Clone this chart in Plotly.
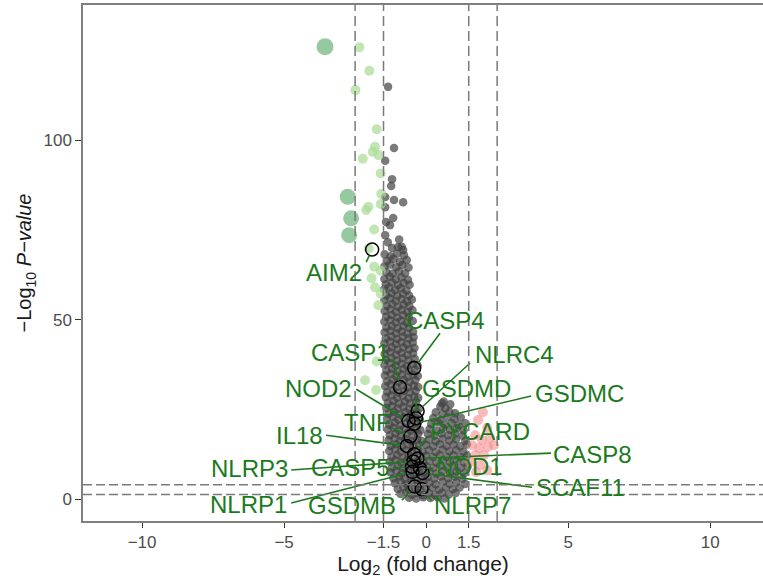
import plotly.graph_objects as go

# ---- data -----------------------------------------------------------------
# background genes (not significant / |log2FC| < 1.5): (log2FC, -log10 p)
grey_points = [
    (-1.34, 114.8), (-1.13, 97.8), (-1.44, 94.2), (-1.2, 89.1), (-1.23, 87.2),
    (-1.44, 84.1), (-1.13, 83.3), (-0.81, 82.7), (-1.44, 81.3), (-1.16, 78.3),
    (-1.41, 77.2), (-1.27, 76.3), (-1.44, 73.5), (-0.99, 70.2), (-1.2, 69.9),
    (-0.81, 69.4), (-1.35, 71.5), (-0.95, 72.3), (-0.86, 70.3),
    (-1.46, 68.2), (-1.25, 67.6), (-1.02, 68.4), (-0.78, 67.9),
    (-1.38, 66.3), (-1.15, 66.9), (-0.92, 66.1), (-0.68, 66.6),
    (-1.47, 64.8), (-1.27, 65.3), (-1.05, 64.6), (-0.84, 65.2), (-0.62, 64.5),
    (-1.4, 63.2), (-1.18, 62.8), (-0.96, 63.4), (-0.74, 62.9),
    (-1.47, 61.3), (-1.28, 61.9), (-1.07, 61.2), (-0.87, 61.7), (-0.64, 61.1),
    (-1.42, 59.8), (-1.2, 60.3), (-0.99, 59.6), (-0.79, 60.2), (-0.58, 59.7),
    (-1.48, 58.4), (-1.3, 58.9), (-1.09, 58.2), (-0.89, 58.7), (-0.69, 58.1),
    (-1.41, 56.8), (-1.21, 57.3), (-1.01, 56.6), (-0.81, 57.2), (-0.6, 56.7),
    (-1.47, 55.4), (-1.27, 55.9), (-1.07, 55.2), (-0.87, 55.7), (-0.67, 55.1), (-0.5, 55.6),
    (-1.39, 53.8), (-1.19, 54.3), (-0.99, 53.6), (-0.79, 54.2), (-0.59, 53.7),
    (-1.46, 52.4), (-1.26, 52.9), (-1.06, 52.2), (-0.86, 52.7), (-0.66, 52.1), (-0.48, 52.6),
    (-1.41, 50.8), (-1.21, 51.3), (-1.01, 50.6), (-0.81, 51.2), (-0.61, 50.7),
    (-1.47, 49.4), (-1.27, 49.9), (-1.07, 49.2), (-0.87, 49.7), (-0.67, 49.1), (-0.47, 49.6),
    (-1.4, 47.8), (-1.2, 48.3), (-1.0, 47.6), (-0.8, 48.2), (-0.6, 47.7),
    (-1.46, 46.4), (-1.26, 46.9), (-1.06, 46.2), (-0.86, 46.7), (-0.66, 46.1), (-0.46, 46.6),
    (-1.42, 44.8), (-1.22, 45.3), (-1.02, 44.6), (-0.82, 45.2), (-0.62, 44.7), (-0.44, 45.1),
    (-1.47, 43.4), (-1.27, 43.9), (-1.07, 43.2), (-0.87, 43.7), (-0.67, 43.1), (-0.47, 43.6),
    (-1.4, 41.8), (-1.2, 42.3), (-1.0, 41.6), (-0.8, 42.2), (-0.6, 41.7), (-0.41, 42.1),
    (-1.46, 40.4), (-1.26, 40.9), (-1.06, 40.2), (-0.86, 40.7), (-0.66, 40.1), (-0.46, 40.6),
    (-1.42, 38.8), (-1.22, 39.3), (-1.02, 38.6), (-0.82, 39.2), (-0.62, 38.7), (-0.4, 39.1),
    (-1.47, 37.4), (-1.27, 37.9), (-1.07, 37.2), (-0.87, 37.7), (-0.67, 37.1), (-0.47, 37.6), (-0.3, 37.2),
    (-1.4, 35.8), (-1.2, 36.3), (-1.0, 35.6), (-0.8, 36.2), (-0.6, 35.7), (-0.4, 36.1),
    (-1.45, 34.4), (-1.25, 34.9), (-1.05, 34.2), (-0.85, 34.7), (-0.65, 34.1), (-0.45, 34.6), (-0.29, 34.3),
    (-1.38, 32.8), (-1.18, 33.3), (-0.98, 32.6), (-0.78, 33.2), (-0.58, 32.7), (-0.38, 33.1),
    (-1.44, 31.4), (-1.24, 31.9), (-1.04, 31.2), (-0.84, 31.7), (-0.64, 31.1), (-0.44, 31.6), (-0.28, 31.2),
    (-1.37, 29.8), (-1.17, 30.3), (-0.97, 29.6), (-0.77, 30.2), (-0.57, 29.7), (-0.37, 30.1),
    (-1.42, 28.4), (-1.22, 28.9), (-1.02, 28.2), (-0.82, 28.7), (-0.62, 28.1), (-0.42, 28.6), (-0.28, 28.2),
    (-1.35, 26.8), (-1.15, 27.3), (-0.95, 26.6), (-0.75, 27.2), (-0.55, 26.7), (-0.35, 27.1),
    (0.56, 26.7), (0.62, 27.2), (0.85, 26.4),
    (-1.4, 25.4), (-1.2, 25.9), (-1.0, 25.2), (-0.8, 25.7), (-0.6, 25.1), (-0.4, 25.6), (-0.24, 25.2),
    (0.5, 25.8), (0.68, 25.2),
    (-1.33, 23.8), (-1.13, 24.3), (-0.93, 23.6), (-0.73, 24.2), (-0.53, 23.7), (-0.33, 24.1),
    (0.34, 24.2), (0.58, 23.7), (0.82, 24.3), (1.02, 23.9),
    (-1.38, 22.4), (-1.18, 22.9), (-0.98, 22.2), (-0.78, 22.7), (-0.58, 22.1), (-0.38, 22.6), (-0.22, 22.2),
    (0.25, 22.6), (0.5, 22.1), (0.75, 22.8), (1.0, 22.3), (1.22, 22.7),
    (-1.3, 20.8), (-1.1, 21.3), (-0.9, 20.6), (-0.7, 21.2), (-0.5, 20.7), (-0.3, 21.1),
    (0.18, 20.9), (0.42, 21.4), (0.66, 20.7), (0.9, 21.2), (1.14, 20.6), (1.38, 21.1),
    (-1.35, 19.4), (-1.15, 19.9), (-0.95, 19.2), (-0.75, 19.7), (-0.55, 19.1), (-0.35, 19.6), (-0.2, 19.2),
    (0.12, 19.5), (0.36, 19.1), (0.6, 19.8), (0.84, 19.3), (1.08, 19.7), (1.32, 19.2),
    (-1.28, 17.8), (-1.08, 18.3), (-0.88, 17.6), (-0.68, 18.2), (-0.48, 17.7), (-0.28, 18.1),
    (0.06, 18.1), (0.3, 17.7), (0.54, 18.3), (0.78, 17.8), (1.02, 18.2), (1.28, 17.7),
    (-1.32, 16.4), (-1.12, 16.9), (-0.92, 16.2), (-0.72, 16.7), (-0.52, 16.1), (-0.32, 16.6), (-0.15, 16.2),
    (0.1, 16.6), (0.34, 16.1), (0.58, 16.8), (0.82, 16.3), (1.06, 16.7), (1.38, 16.2),
    (-1.25, 14.8), (-1.05, 15.3), (-0.85, 14.6), (-0.65, 15.2), (-0.45, 14.7), (-0.25, 15.1),
    (0.0, 15.1), (0.24, 14.7), (0.48, 15.3), (0.72, 14.8), (0.96, 15.2), (1.2, 14.7), (1.44, 15.2),
    (-1.3, 13.4), (-1.1, 13.9), (-0.9, 13.2), (-0.7, 13.7), (-0.5, 13.1), (-0.3, 13.6), (-0.12, 13.2),
    (0.1, 13.6), (0.34, 13.1), (0.58, 13.8), (0.82, 13.3), (1.06, 13.7), (1.32, 13.2),
    (-1.22, 11.8), (-1.02, 12.3), (-0.82, 11.6), (-0.62, 12.2), (-0.42, 11.7), (-0.22, 12.1),
    (0.0, 12.1), (0.24, 11.7), (0.48, 12.3), (0.72, 11.8), (0.96, 12.2), (1.2, 11.7), (1.44, 12.1),
    (-1.28, 10.4), (-1.08, 10.9), (-0.88, 10.2), (-0.68, 10.7), (-0.48, 10.1), (-0.28, 10.6), (-0.1, 10.2),
    (0.12, 10.6), (0.36, 10.1), (0.6, 10.8), (0.84, 10.3), (1.08, 10.7), (1.34, 10.2),
    (-1.2, 8.8), (-1.0, 9.3), (-0.8, 8.6), (-0.6, 9.2), (-0.4, 8.7), (-0.2, 9.1),
    (0.02, 9.1), (0.26, 8.7), (0.5, 9.3), (0.74, 8.8), (0.98, 9.2), (1.22, 8.7), (1.46, 9.1),
    (-1.25, 7.4), (-1.05, 7.9), (-0.85, 7.2), (-0.65, 7.7), (-0.45, 7.1), (-0.25, 7.6), (-0.08, 7.2),
    (0.12, 7.6), (0.36, 7.1), (0.6, 7.8), (0.84, 7.3), (1.08, 7.7), (1.34, 7.2),
    (-1.15, 5.8), (-0.95, 6.3), (-0.75, 5.6), (-0.55, 6.2), (-0.35, 5.7), (-0.15, 6.1),
    (0.05, 6.1), (0.29, 5.7), (0.53, 6.3), (0.77, 5.8), (1.01, 6.2), (1.27, 5.7),
    (-1.1, 4.4), (-0.9, 4.9), (-0.7, 4.2), (-0.5, 4.7), (-0.3, 4.1), (-0.1, 4.6),
    (0.1, 4.6), (0.34, 4.1), (0.58, 4.8), (0.82, 4.3), (1.06, 4.7), (1.38, 4.2),
    (-1.0, 2.8), (-0.8, 3.3), (-0.6, 2.6), (-0.4, 3.2), (-0.2, 2.7), (0.0, 3.1),
    (0.22, 3.2), (0.46, 2.7), (0.7, 3.3), (0.94, 2.8), (1.18, 3.2),
    (-0.9, 1.4), (-0.7, 1.9), (-0.5, 1.2), (-0.3, 1.7), (-0.1, 1.1), (0.1, 1.6),
    (0.32, 1.2), (0.56, 1.8), (0.8, 1.3), (1.04, 1.7),
    (-0.6, 0.4), (-0.35, 0.2), (-0.1, 0.5), (0.15, 0.3), (0.4, 0.5), (0.65, 0.2),
]

# down-regulated, 1.5 < |log2FC| < 2.5
down_points = [
    (-2.35, 125.8), (-2.0, 119.3), (-2.49, 113.9), (-1.74, 103.0), (-1.8, 98.1),
    (-1.88, 96.7), (-1.68, 95.8), (-2.23, 94.8), (-1.6, 90.7), (-1.58, 85.0),
    (-2.03, 81.4), (-2.11, 80.5), (-1.6, 82.2), (-1.83, 75.1), (-2.02, 69.8),
    (-1.83, 64.7), (-1.6, 63.6), (-1.92, 61.5), (-1.8, 59.0), (-1.6, 57.3),
    (-1.68, 54.0), (-1.74, 38.3), (-2.15, 33.1), (-1.76, 30.4),
]

# strongly down-regulated, |log2FC| > 2.5
strong_down_points = [(-3.56, 126.0), (-2.76, 84.2), (-2.64, 78.2), (-2.71, 73.5)]

# up-regulated, 1.5 < log2FC < 2.5
up_points = [
    (2.0, 24.2), (1.83, 22.0), (2.15, 19.8), (1.73, 17.8), (1.97, 16.4),
    (2.25, 17.0), (1.62, 15.0), (1.87, 14.2), (2.18, 14.5), (2.39, 15.0),
    (1.73, 12.3), (2.04, 12.3), (1.55, 10.3), (1.9, 9.5), (1.76, 7.5), (2.15, 8.0),
]

# highlighted inflammasome / pyroptosis genes
gene_names = ["AIM2", "CASP4", "CASP1", "NLRC4", "GSDMD", "GSDMC", "NOD2", "TNF",
              "IL18", "PYCARD", "CASP8", "NOD1", "CASP5", "NLRP3", "SCAF11",
              "NLRP1", "GSDMB", "NLRP7"]
gene_fc = [-1.9, -0.42, -0.92, -0.3, -0.36, -0.42, -0.62, -0.55,
           -0.68, -0.42, -0.3, -0.22, -0.5, -0.45, -0.12,
           -0.48, -0.4, -0.16]
gene_logp = [69.5, 36.5, 31.2, 24.5, 22.5, 21.0, 21.8, 17.5,
             14.8, 12.5, 11.3, 8.6, 9.0, 10.5, 7.3,
             7.6, 3.5, 2.8]

# repelled label placement (text centre) and leader-line start next to the text
label_pos = [(-3.24, 63.2), (0.67, 49.6), (-2.68, 40.7), (3.1, 40.4), (1.41, 30.9),
             (5.39, 29.5), (-3.8, 30.9), (-2.08, 21.2), (-4.47, 17.8), (1.9, 18.7),
             (5.85, 12.3), (1.51, 9.2), (-2.68, 8.9), (-6.23, 8.6), (5.42, 3.1),
             (-6.27, -1.4), (-2.6, -1.7), (1.62, -1.7)]
leader_start = [(-2.11, 66.0), (0.49, 46.2), (-1.16, 39.3), (1.55, 37.9), (-0.35, 28.4),
                (3.7, 28.7), (-2.46, 30.6), (-1.2, 19.8), (-3.52, 17.8), (0.04, 17.3),
                (4.4, 12.8), (0.25, 8.6), (-1.16, 8.6), (-4.75, 8.1), (3.73, 3.3),
                (-4.75, -1.1), (-0.85, -0.3), (0.18, -0.3)]

fc_cutoffs = [-2.5, -1.5, 1.5, 2.5]
p_cutoffs = [1.3, 4.0]

x_ticks = [-10, -5, -1.5, 0, 1.5, 5, 10]
y_ticks = [0, 50, 100]

# ---- layout geometry ----------------------------------------------------------
W, H = 763, 578
M_L, M_R, M_T, M_B = 83, 0, 5, 57
X_RANGE = [-12.08, 11.86]
Y_RANGE = [-6.1, 137.6]
px_x = (W - M_L - M_R) / (X_RANGE[1] - X_RANGE[0])
px_y = (H - M_T - M_B) / (Y_RANGE[1] - Y_RANGE[0])

GREEN_TXT = "#1c7a1c"
fig = go.Figure()


def split(points):
    return [p[0] for p in points], [p[1] for p in points]


gx, gy = split(grey_points)
fig.add_trace(go.Scatter(x=gx, y=gy, mode="markers",
                         marker=dict(size=8.5, color="rgba(66,66,66,0.7)", line=dict(width=0))))

dx, dy = split(down_points)
fig.add_trace(go.Scatter(x=dx, y=dy, mode="markers",
                         marker=dict(size=10, color="rgba(170,220,150,0.72)", line=dict(width=0))))

sx, sy = split(strong_down_points)
fig.add_trace(go.Scatter(x=sx, y=sy, mode="markers",
                         marker=dict(size=[17, 16, 16, 16], color="rgba(80,165,95,0.85)",
                                     line=dict(width=0))))

ux, uy = split(up_points)
fig.add_trace(go.Scatter(x=ux, y=uy, mode="markers",
                         marker=dict(size=10, color="rgba(245,140,140,0.6)", line=dict(width=0))))

fig.add_trace(go.Scatter(x=gene_fc, y=gene_logp, mode="markers",
                         marker=dict(symbol="circle-open", size=13, color="black",
                                     line=dict(width=1.5, color="black"))))

# leader lines, stopped at the edge of each highlighted circle
seg_x, seg_y = [], []
r_px = 6.5
for (x0, y0), x1, y1 in zip(leader_start, gene_fc, gene_logp):
    ddx = (x1 - x0) * px_x
    ddy = (y1 - y0) * px_y
    d = (ddx ** 2 + ddy ** 2) ** 0.5
    f = max(d - r_px, 0) / d if d > 0 else 0
    seg_x += [x0, x0 + (x1 - x0) * f, None]
    seg_y += [y0, y0 + (y1 - y0) * f, None]
fig.add_trace(go.Scatter(x=seg_x, y=seg_y, mode="lines",
                         line=dict(color=GREEN_TXT, width=1.6)))

for name, (lx, ly) in zip(gene_names, label_pos):
    fig.add_annotation(x=lx, y=ly, text=name, showarrow=False,
                       xanchor="center", yanchor="middle",
                       font=dict(family="Liberation Sans, Arial", size=24, color=GREEN_TXT))

for v in fc_cutoffs:
    fig.add_shape(type="line", xref="x", yref="paper", x0=v, x1=v, y0=0, y1=1,
                  line=dict(color="#7a7a7a", width=1.5, dash="10px,5px"), layer="above")
for h in p_cutoffs:
    fig.add_shape(type="line", xref="paper", yref="y", x0=0, x1=1, y0=h, y1=h,
                  line=dict(color="#7a7a7a", width=1.5, dash="9px,4px"), layer="above")

fig.update_layout(
    width=W, height=H,
    margin=dict(l=M_L, r=M_R, t=M_T, b=M_B),
    paper_bgcolor="white", plot_bgcolor="white",
    showlegend=False,
    font=dict(family="Liberation Sans, Arial", color="#4d4d4d"),
    xaxis=dict(range=X_RANGE, tickvals=x_ticks,
               ticktext=["\u221210", "\u22125", "\u22121.5", "0", "1.5", "5", "10"],
               showgrid=False, zeroline=False, showline=True, mirror=True,
               linecolor="#7f7f7f", linewidth=1.5,
               ticks="outside", ticklen=5, tickwidth=1.3, tickcolor="#333333",
               tickfont=dict(size=17, color="#4d4d4d"),
               title=dict(text="Log<sub>2</sub> (fold change)", standoff=6,
                          font=dict(size=21, color="#1a1a1a"))),
    yaxis=dict(range=Y_RANGE, tickvals=y_ticks,
               showgrid=False, zeroline=False, showline=True, mirror=False,
               linecolor="#7f7f7f", linewidth=1.5,
               ticks="outside", ticklen=6, tickwidth=1.3, tickcolor="#333333",
               tickfont=dict(size=17, color="#4d4d4d"),
               title=dict(text="\u2212Log<sub>10</sub> <i>P\u2212value</i>", standoff=6,
                          font=dict(size=20, color="#1a1a1a"))),
)

fig.write_html("out.html")
